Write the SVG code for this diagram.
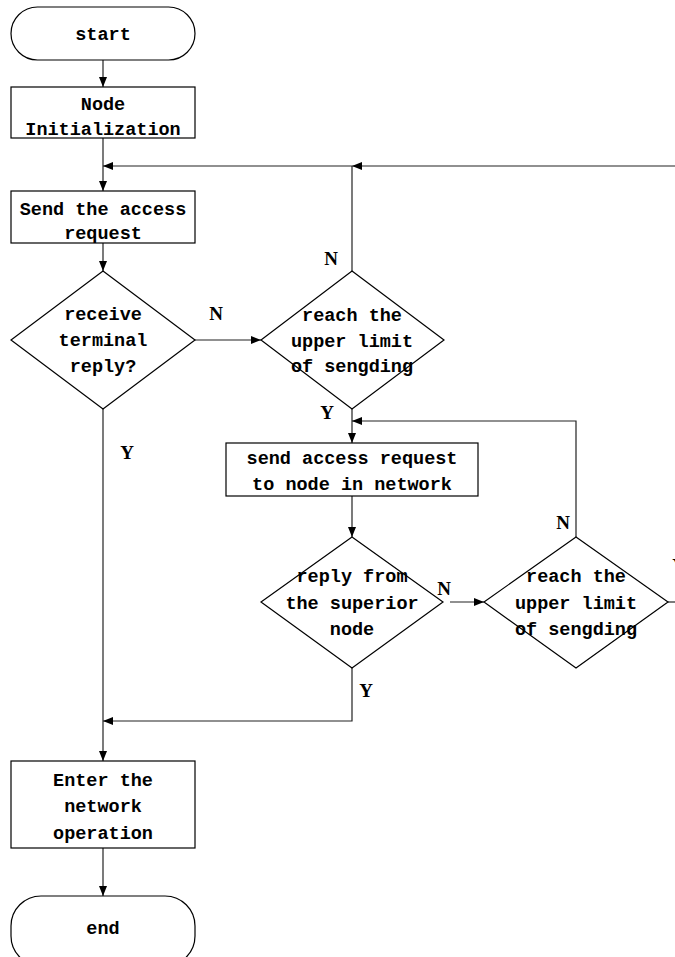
<svg xmlns="http://www.w3.org/2000/svg" width="675" height="957" viewBox="0 0 675 957">
<style>
.s{fill:#fff;stroke:#000;stroke-width:1.2}
.t{font-family:"Liberation Mono",monospace;font-size:18.5px;fill:#000;text-anchor:middle;font-weight:bold}
.l{font-family:"Liberation Serif",serif;font-size:19px;fill:#000;text-anchor:middle;font-weight:bold}
.c{fill:none;stroke:#222;stroke-width:1.2}
</style>
<defs>
<marker id="a" markerWidth="10" markerHeight="8" refX="10" refY="4" orient="auto" markerUnits="userSpaceOnUse">
<path d="M0,0 L10,4 L0,8 Z" fill="#000"/>
</marker>
</defs>
<rect width="675" height="957" fill="#fff"/>
<g id="connectors">
<path class="c" d="M103,60 V87" marker-end="url(#a)"/>
<path class="c" d="M103,138 V191" marker-end="url(#a)"/>
<path class="c" d="M675,166 H352" marker-end="url(#a)"/>
<path class="c" d="M352,166 H103" marker-end="url(#a)"/>
<path class="c" d="M103,243 V271" marker-end="url(#a)"/>
<path class="c" d="M195,340 H261" marker-end="url(#a)"/>
<path class="c" d="M352,271 V166"/>
<path class="c" d="M352,409 V443" marker-end="url(#a)"/>
<path class="c" d="M576,537 V421 H352" marker-end="url(#a)"/>
<path class="c" d="M352,496 V537" marker-end="url(#a)"/>
<path class="c" d="M450,602 H484" marker-end="url(#a)"/>
<path class="c" d="M668,602 H675"/>
<path class="c" d="M352,668 V721 H103" marker-end="url(#a)"/>
<path class="c" d="M103,409 V761" marker-end="url(#a)"/>
<path class="c" d="M103,848 V896" marker-end="url(#a)"/>
<text class="l" x="216" y="320">N</text>
<text class="l" x="331" y="265">N</text>
<text class="l" x="327" y="419">Y</text>
<text class="l" x="127" y="459">Y</text>
<text class="l" x="444" y="595">N</text>
<text class="l" x="563" y="529">N</text>
<text class="l" x="679" y="572">Y</text>
<text class="l" x="366" y="697">Y</text>
</g>
<g id="start">
<rect class="s" x="11" y="7" width="184" height="53" rx="26.5"/>
<text class="t" x="103" y="40">start</text>
</g>
<g id="init">
<rect class="s" x="11" y="87" width="184" height="51"/>
<text class="t" x="103" y="110">Node</text>
<text class="t" x="103" y="135">Initialization</text>
</g>
<g id="send">
<rect class="s" x="11" y="191" width="184" height="52"/>
<text class="t" x="103" y="215">Send the access</text>
<text class="t" x="103" y="239">request</text>
</g>
<g id="receive">
<polygon class="s" points="103,271 195,340 103,409 11,340"/>
<text class="t" x="103" y="320">receive</text>
<text class="t" x="103" y="346">terminal</text>
<text class="t" x="103" y="372">reply?</text>
</g>
<g id="limit1">
<polygon class="s" points="352,271 444,340 352,409 261,340"/>
<text class="t" x="352" y="321">reach the</text>
<text class="t" x="352" y="347">upper limit</text>
<text class="t" x="352" y="372">of sengding</text>
</g>
<g id="sendnet">
<rect class="s" x="226" y="443" width="252" height="53"/>
<text class="t" x="352" y="464">send access request</text>
<text class="t" x="352" y="490">to node in network</text>
</g>
<g id="reply">
<polygon class="s" points="352,537 443,602 352,668 261,602"/>
<text class="t" x="352" y="582">reply from</text>
<text class="t" x="352" y="609">the superior</text>
<text class="t" x="352" y="635">node</text>
</g>
<g id="limit2">
<polygon class="s" points="576,537 668,602 576,668 484,602"/>
<text class="t" x="576" y="582">reach the</text>
<text class="t" x="576" y="609">upper limit</text>
<text class="t" x="576" y="635">of sengding</text>
</g>
<g id="enter">
<rect class="s" x="11" y="761" width="184" height="87"/>
<text class="t" x="103" y="786">Enter the</text>
<text class="t" x="103" y="812">network</text>
<text class="t" x="103" y="839">operation</text>
</g>
<g id="end">
<rect class="s" x="11" y="896" width="184" height="70" rx="30"/>
<text class="t" x="103" y="934">end</text>
</g>
</svg>
